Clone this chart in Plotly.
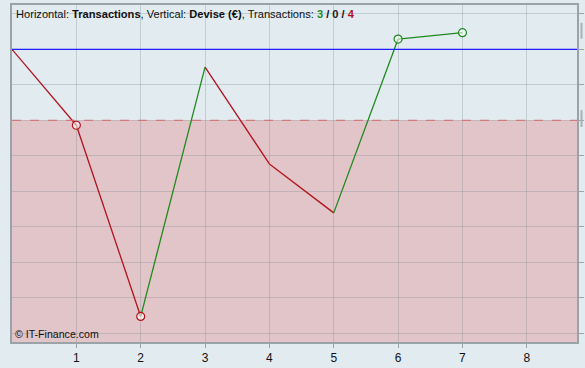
import plotly.graph_objects as go

# Data
transactions = [0, 1, 2, 3, 4, 5, 6, 7]
equity = [200, -14, -553, 150, -123, -261, 229, 247]
marked_points = [1, 2, 6, 7]
reference_level = 200
zero_level = 0
x_ticks = [1, 2, 3, 4, 5, 6, 7, 8]
y_ticks = [-600, -500, -400, -300, -200, -100, 0, 100, 200, 300]

UP = "#1f8a1f"
DOWN = "#b3121d"
BG = "#e2ebf0"

fig = go.Figure()

# segments coloured by direction
for i in range(len(equity) - 1):
    col = UP if equity[i + 1] >= equity[i] else DOWN
    fig.add_trace(go.Scatter(
        x=transactions[i:i + 2], y=equity[i:i + 2], mode="lines",
        line=dict(color=col, width=1.3), hoverinfo="skip", showlegend=False))

mx = [transactions[i] for i in marked_points]
my = [equity[i] for i in marked_points]
mc = [UP if equity[i] >= equity[i - 1] else DOWN for i in marked_points]
fig.add_trace(go.Scatter(
    x=mx, y=my, mode="markers",
    marker=dict(symbol="circle", size=8, color="rgba(255,255,255,0.55)",
                line=dict(color=mc, width=1.2)),
    showlegend=False, hoverinfo="skip"))

# loss area shading
fig.add_shape(type="rect", xref="paper", yref="y", x0=0, x1=1,
              y0=-10000, y1=zero_level, fillcolor="#e2c5c8", line_width=0,
              layer="below")
fig.add_shape(type="line", xref="paper", yref="y", x0=0, x1=1,
              y0=zero_level, y1=zero_level,
              line=dict(color="#d06a6a", width=1, dash="dash"))
fig.add_shape(type="line", xref="paper", yref="y", x0=0, x1=1,
              y0=reference_level, y1=reference_level,
              line=dict(color="#1f1fff", width=1.3))

# small grey marks at the right edge
for (a, b) in [(0.9, 0.947), (0.638, 0.688)]:
    fig.add_shape(type="line", xref="paper", yref="paper", x0=1.008, x1=1.008,
                  y0=a, y1=b, line=dict(color="#a8b2b6", width=2))

font = "Liberation Sans, Arial, sans-serif"
fig.add_annotation(
    xref="paper", yref="paper", x=0.003, y=0.998, xanchor="left", yanchor="top",
    showarrow=False, font=dict(family=font, size=11.1, color="#111"),
    text=("Horizontal: <b>Transactions</b>, Vertical: <b>Devise (€)</b>, "
          "Transactions: <b><span style='color:#1f8a1f'>3</span> / "
          "<span style='color:#222'>0</span> / "
          "<span style='color:#b3121d'>4</span></b>"))
fig.add_annotation(
    xref="paper", yref="paper", x=0.002, y=0.0, xanchor="left", yanchor="bottom",
    showarrow=False, font=dict(family=font, size=10.6, color="#111"),
    text="© IT-Finance.com")

fig.update_layout(
    width=585, height=368,
    margin=dict(l=12, r=6, t=3, b=25),
    paper_bgcolor=BG, plot_bgcolor=BG,
    font=dict(family=font, size=12, color="#111"),
    xaxis=dict(range=[0, 8.78], tickvals=x_ticks, ticks="outside", ticklen=4,
               tickcolor="#9aa4a8", showgrid=True,
               gridcolor="rgba(110,125,135,0.28)", gridwidth=1,
               zeroline=False, showline=True, mirror=True,
               linecolor="#9aa4a8", linewidth=2, tickfont=dict(size=12)),
    yaxis=dict(range=[-625, 325], tickvals=y_ticks, side="right",
               ticks="outside", ticklen=5, tickcolor="#9aa4a8",
               showticklabels=False, showgrid=True,
               gridcolor="rgba(110,125,135,0.28)", gridwidth=1,
               zeroline=False, showline=True, mirror=True,
               linecolor="#9aa4a8", linewidth=2),
)

fig.write_html(
    "out.html",
    config={"displayModeBar": False},
    post_script="document.body.style.margin='0';document.body.style.overflow='hidden';")
